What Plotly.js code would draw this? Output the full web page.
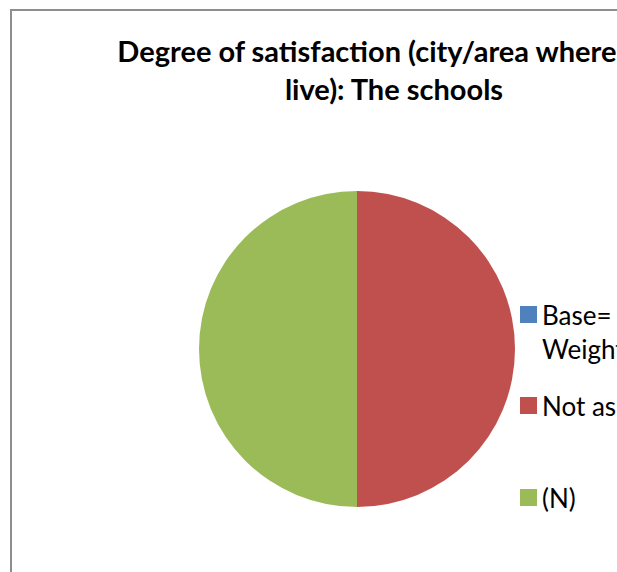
<!DOCTYPE html>
<html>
<head>
<meta charset="utf-8">
<script src="https://cdn.plot.ly/plotly-3.0.1.min.js"></script>
<style>
html,body{margin:0;padding:0;width:617px;height:572px;overflow:hidden;background:#fff;}
#chart{position:absolute;left:10px;top:9px;width:764px;height:600px;border:2px solid #8e8e8e;}
</style>
</head>
<body>
<div id="chart"></div>
<script>
// Data
const labels = ["Base=<br>Weighted", "Not asked", "(N)"];
const values = [0, 1, 1];
const colors = ["#4F81BD", "#C0504D", "#9BBB59"];
const titleText = "Degree of satisfaction (city/area where you<br>live): The schools";

const W = 764, H = 600;
const px = x => x / W;
const py = y => 1 - y / H;

// legend layout (pixel positions within the chart box)
const legX = 508, legSize = 17, legTextX = 529;
const legTops = [295, 386, 478];
const legFont = 26;

const shapes = [], annotations = [];
labels.forEach((lab, i) => {
  const t = legTops[i];
  shapes.push({type:"rect", xref:"paper", yref:"paper",
    x0:px(legX), x1:px(legX+legSize), y0:py(t+legSize), y1:py(t),
    fillcolor:colors[i], line:{width:0}});
  annotations.push({xref:"paper", yref:"paper", x:px(legTextX),
    y:py(t + legSize/2 - legFont*1.3/2), xanchor:"left", yanchor:"top",
    text:lab, showarrow:false, align:"left", borderpad:0,
    font:{family:"Lato, 'Open Sans', sans-serif", size:legFont, color:"#000"}});
});

const data = [{
  type:"pie", labels:labels, values:values,
  marker:{colors:colors, line:{width:0}},
  sort:false, direction:"clockwise", rotation:0,
  textinfo:"none", hoverinfo:"label+value",
  domain:{x:[187/W, 503/W], y:[1-496/H, 1-180/H]},
  showlegend:false
}];

const layout = {
  width:W, height:H,
  margin:{l:0,r:0,t:0,b:0},
  paper_bgcolor:"#fff",
  title:{text:titleText, xref:"container", x:0.5, xanchor:"center",
    yref:"container", y:1-51/H, yanchor:"top",
    font:{family:"Lato, 'Open Sans', sans-serif", size:29, weight:700, color:"#000"}},
  shapes:shapes, annotations:annotations, showlegend:false
};

Plotly.newPlot("chart", data, layout, {displayModeBar:false, staticPlot:true});
</script>
</body>
</html>
